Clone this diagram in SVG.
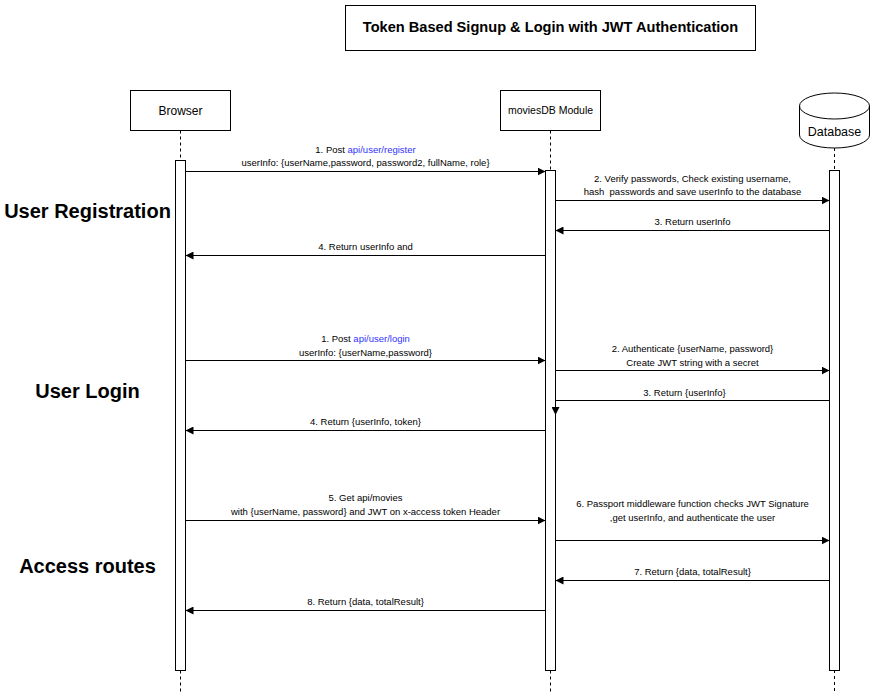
<svg xmlns="http://www.w3.org/2000/svg" width="871" height="693" viewBox="0 0 871 693">
<style>
text{font-family:"Liberation Sans",Arial,sans-serif;fill:#000}
.lbl{font-size:9.5px;text-anchor:middle}
.lnk{fill:#3333ff}
.sec{font-size:20px;font-weight:bold;text-anchor:middle}
.box{fill:#fff;stroke:#000;stroke-width:1}
.life{stroke:#000;stroke-width:1;stroke-dasharray:3 3;fill:none}
.bar{fill:#fff;stroke:#000;stroke-width:1}
.msg{stroke:#000;stroke-width:1;fill:none;marker-end:url(#arr)}
</style>
<defs>
<marker id="arr" markerUnits="userSpaceOnUse" markerWidth="8" markerHeight="8" refX="8" refY="4" orient="auto">
<path d="M0,0 L8,4 L0,8 z" fill="#000"/>
</marker>
</defs>
<rect width="871" height="693" fill="#fff"/>

<g id="title">
<rect class="box" x="345.5" y="5.5" width="410" height="45"/>
<text x="550.5" y="32" style="font-size:14.6px;font-weight:bold;text-anchor:middle">Token Based Signup &amp; Login with JWT Authentication</text>
</g>

<g id="sections">
<text class="sec" x="87.5" y="217.5">User Registration</text>
<text class="sec" x="87.5" y="397.5">User Login</text>
<text class="sec" x="87.5" y="572.5">Access routes</text>
</g>

<g id="browser">
<rect class="box" x="130.5" y="90.5" width="100" height="40"/>
<text x="180.5" y="114.5" style="font-size:12px;text-anchor:middle">Browser</text>
<line class="life" x1="180.5" y1="130.5" x2="180.5" y2="693"/>
<rect class="bar" x="175.5" y="160.5" width="10" height="510"/>
</g>

<g id="moviesdb">
<rect class="box" x="500.5" y="90.5" width="100" height="40"/>
<text x="550.5" y="114" style="font-size:10.5px;text-anchor:middle">moviesDB Module</text>
<line class="life" x1="550.5" y1="130.5" x2="550.5" y2="693"/>
<rect class="bar" x="545.5" y="170.5" width="10" height="500"/>
</g>

<g id="database">
<path class="box" d="M799.5,106 A35,13 0 0 1 869.5,106 L869.5,135 A35,13 0 0 1 799.5,135 Z"/>
<path d="M799.5,106 A35,13 0 0 0 869.5,106" fill="none" stroke="#000"/>
<text x="834.5" y="136" style="font-size:12.5px;text-anchor:middle">Database</text>
<line class="life" x1="834.5" y1="148" x2="834.5" y2="693"/>
<rect class="bar" x="829.5" y="170.5" width="10" height="500"/>
</g>

<g id="connectors">
<line class="msg" x1="185.5" y1="171.5" x2="545.5" y2="171.5"/>
<line class="msg" x1="555.5" y1="200.5" x2="829.5" y2="200.5"/>
<line class="msg" x1="829.5" y1="230.5" x2="555.5" y2="230.5"/>
<line class="msg" x1="545.5" y1="255.5" x2="185.5" y2="255.5"/>

<line class="msg" x1="185.5" y1="360.5" x2="545.5" y2="360.5"/>
<line class="msg" x1="555.5" y1="370.5" x2="829.5" y2="370.5"/>
<path class="msg" d="M829.5,400.5 L555.5,400.5 L555.5,415"/>
<line class="msg" x1="545.5" y1="430.5" x2="185.5" y2="430.5"/>

<line class="msg" x1="185.5" y1="520.5" x2="545.5" y2="520.5"/>
<line class="msg" x1="555.5" y1="540.5" x2="829.5" y2="540.5"/>
<line class="msg" x1="829.5" y1="580.5" x2="555.5" y2="580.5"/>
<line class="msg" x1="545.5" y1="610.5" x2="185.5" y2="610.5"/>
</g>

<g id="labels">
<text class="lbl" x="365.5" y="153">1. Post <tspan class="lnk">api/user/register</tspan></text>
<text class="lbl" x="365.5" y="166">userInfo: {userName,password, password2, fullName, role}</text>
<text class="lbl" x="692.5" y="182">2. Verify passwords, Check existing username,</text>
<text class="lbl" x="692.5" y="195" xml:space="preserve">hash  passwords and save userInfo to the database</text>
<text class="lbl" x="692.5" y="225">3. Return userInfo</text>
<text class="lbl" x="365.5" y="250">4. Return userInfo and</text>

<text class="lbl" x="365.5" y="341.5">1. Post <tspan class="lnk">api/user/login</tspan></text>
<text class="lbl" x="365.5" y="355.5">userInfo: {userName,password}</text>
<text class="lbl" x="692.5" y="352">2. Authenticate {userName, password}</text>
<text class="lbl" x="692.5" y="365.5">Create JWT string with a secret</text>
<text class="lbl" x="684.5" y="395.5">3. Return {userInfo}</text>
<text class="lbl" x="365.5" y="425">4. Return {userInfo, token}</text>

<text class="lbl" x="365.5" y="501">5. Get api/movies</text>
<text class="lbl" x="365.5" y="515">with {userName, password} and JWT on x-access token Header</text>
<text class="lbl" x="692.5" y="507">6. Passport middleware function checks JWT Signature</text>
<text class="lbl" x="692.5" y="520.5">,get userInfo, and authenticate the user</text>
<text class="lbl" x="692.5" y="575">7. Return {data, totalResult}</text>
<text class="lbl" x="365.5" y="605">8. Return {data, totalResult}</text>
</g>
</svg>
